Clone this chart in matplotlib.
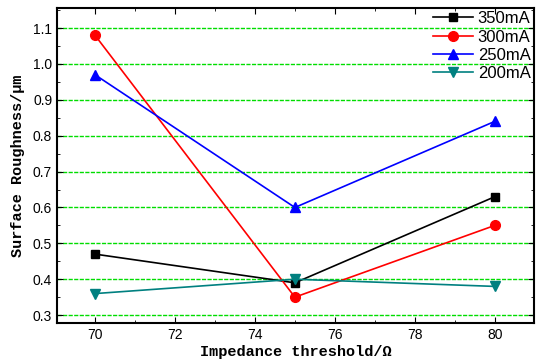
import matplotlib
matplotlib.use('Agg')
import matplotlib.pyplot as plt
from matplotlib.ticker import MultipleLocator

# data
thresholds = [70, 75, 80]
r_350 = [0.47, 0.39, 0.63]
r_300 = [1.08, 0.35, 0.55]
r_250 = [0.97, 0.60, 0.84]
r_200 = [0.36, 0.40, 0.38]

plt.rcParams['font.family'] = ['Liberation Sans', 'DejaVu Sans']

fig = plt.figure(figsize=(5.37, 3.64), dpi=100)
ax = fig.add_axes([57 / 537, 1 - 323 / 364, 477 / 537, 315 / 364])

ax.plot(thresholds, r_350, '-s', color='black', ms=6, lw=1.2, label='350mA')
ax.plot(thresholds, r_300, '-o', color='red', ms=7, lw=1.2, label='300mA')
ax.plot(thresholds, r_250, '-^', color='blue', ms=6.5, lw=1.2, label='250mA')
ax.plot(thresholds, r_200, '-v', color='#008080', ms=6.5, lw=1.2, label='200mA')

ax.set_xlim(69.05, 80.98)
ax.set_ylim(0.278, 1.156)
ax.xaxis.set_major_locator(MultipleLocator(2))
ax.xaxis.set_minor_locator(MultipleLocator(1))
ax.yaxis.set_major_locator(MultipleLocator(0.1))
ax.yaxis.set_minor_locator(MultipleLocator(0.05))
ax.tick_params(which='both', direction='in', top=True, right=True, labelsize=10)
ax.tick_params(which='major', length=4)
ax.tick_params(which='minor', length=2)
ax.yaxis.grid(True, color='#00dd00', linestyle=(0, (3, 1)), lw=1)
ax.set_axisbelow(True)
for s in ax.spines.values():
    s.set_linewidth(1.5)

lab_font = {'family': ['Liberation Mono', 'DejaVu Sans Mono'], 'weight': 'bold', 'size': 11}
ax.set_xlabel('Impedance threshold/Ω', fontdict=lab_font, labelpad=2)
ax.set_ylabel('Surface Roughness/μm', fontdict=lab_font, labelpad=6)

ax.legend(loc='upper right', frameon=False, fontsize=12, handlelength=2.4,
          borderaxespad=0.0, borderpad=0.2, labelspacing=0.2, handletextpad=0.3)

fig.savefig('out.png', dpi=100)
